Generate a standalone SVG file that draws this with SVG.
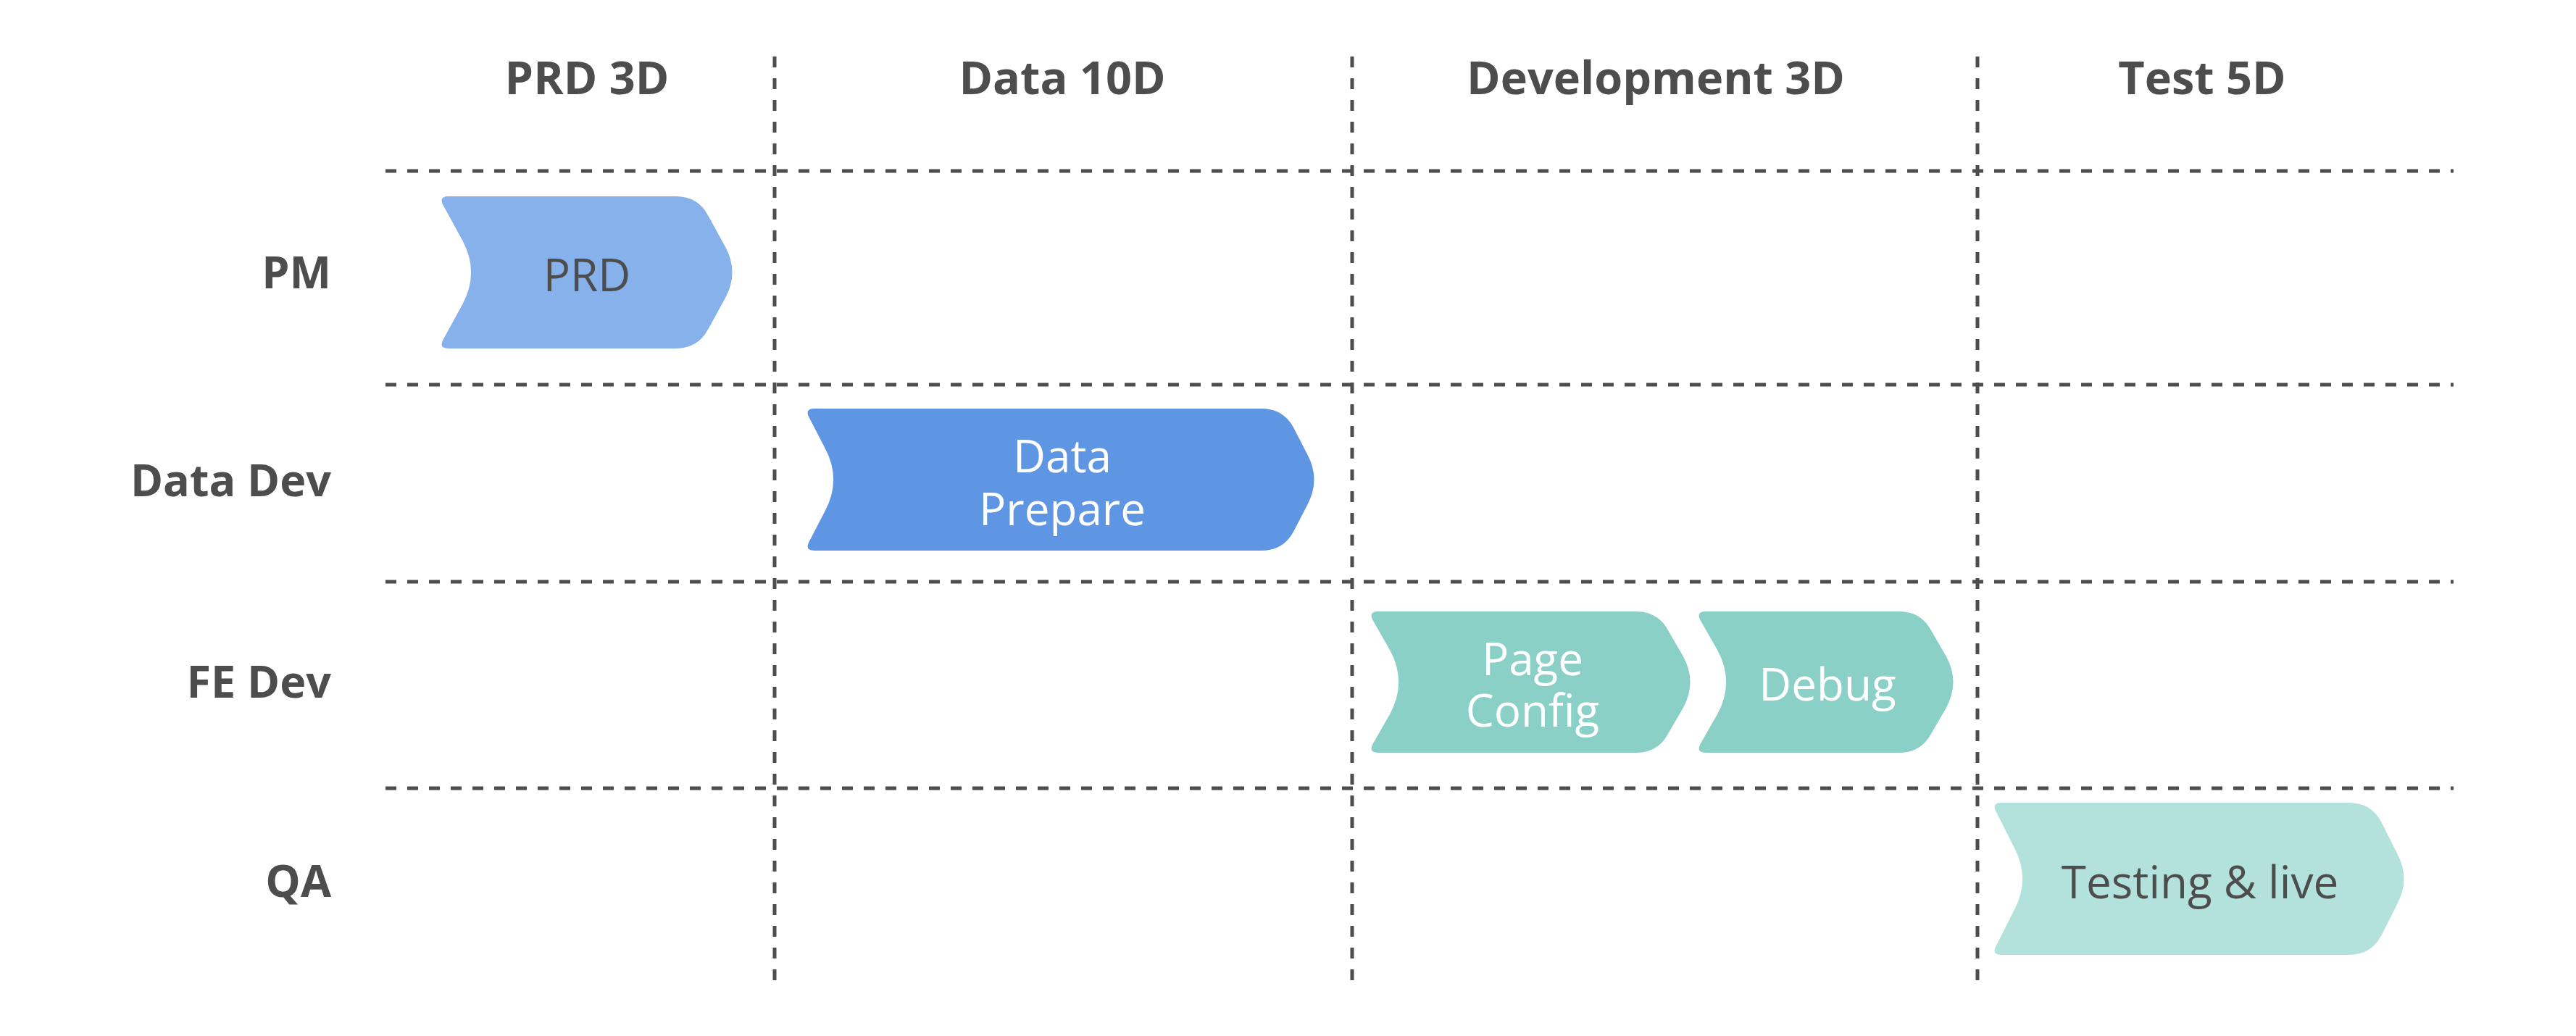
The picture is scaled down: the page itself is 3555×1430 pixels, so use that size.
<svg xmlns="http://www.w3.org/2000/svg" width="3555" height="1430" viewBox="0 0 3555 1430">
<style>
.grid line{stroke:#4d4d4d;stroke-width:5;stroke-dasharray:15 15;fill:none}
.hdr{font-family:"Open Sans","Liberation Sans",sans-serif;font-weight:700;font-size:63px;fill:#4d4d4d;text-anchor:middle}
.row{font-family:"Open Sans","Liberation Sans",sans-serif;font-weight:700;font-size:61px;fill:#4d4d4d;text-anchor:end}
.lbl{font-family:"Open Sans","Liberation Sans",sans-serif;font-size:62px;text-anchor:middle}
.dark{fill:#4d4d4d}
.light{fill:#ffffff}
</style>
<rect width="3555" height="1430" fill="#ffffff"/>
<g id="grid" class="grid">
<line x1="532" y1="236" x2="3386" y2="236"/>
<line x1="532" y1="531" x2="3386" y2="531"/>
<line x1="532" y1="803" x2="3386" y2="803"/>
<line x1="532" y1="1088" x2="3386" y2="1088"/>
<line x1="1069" y1="78" x2="1069" y2="1353"/>
<line x1="1866" y1="78" x2="1866" y2="1353"/>
<line x1="2729" y1="78" x2="2729" y2="1353"/>
</g>
<g id="headers">
<text class="hdr" x="810" y="130">PRD 3D</text>
<text class="hdr" x="1466" y="130">Data 10D</text>
<text class="hdr" x="2285" y="130">Development 3D</text>
<text class="hdr" x="3039" y="130">Test 5D</text>
</g>
<g id="rows">
<text class="row" x="457" y="398">PM</text>
<text class="row" x="457" y="685">Data Dev</text>
<text class="row" x="457" y="963">FE Dev</text>
<text class="row" x="457" y="1238">QA</text>
</g>
<g id="node-prd">
<path fill="#87B1EA" d="M 619 271 L 933 271 Q 963 271 977.25 297.4 L 1001 340.8 Q 1020 376 1001 411.2 L 977.25 454.6 Q 963 481 933 481 L 619 481 Q 605 481 611.65 468.7 L 638.25 420 Q 662 376 638.25 332 L 611.65 283.3 Q 605 271 619 271 Z"/>
<text class="lbl dark" x="810" y="402">PRD</text>
</g>
<g id="node-data-prepare">
<path fill="#5E96E4" d="M 1124 564 L 1741 564 Q 1771 564 1785.25 590.4 L 1804 626.8 Q 1823 662 1804 697.2 L 1785.25 733.6 Q 1771 760 1741 760 L 1124 760 Q 1110 760 1116.65 747.7 L 1138.25 706 Q 1162 662 1138.25 618 L 1116.65 576.3 Q 1110 564 1124 564 Z"/>
<text class="lbl light" x="1466" y="652">Data</text>
<text class="lbl light" x="1466" y="725">Prepare</text>
</g>
<g id="node-page-config">
<path fill="#8AD0C7" d="M 1902 844 L 2258 844 Q 2288 844 2302.25 870.4 L 2323 906.3 Q 2342 941.5 2323 976.7 L 2302.25 1012.6 Q 2288 1039 2258 1039 L 1902 1039 Q 1888 1039 1894.65 1026.7 L 1918.25 985.5 Q 1942 941.5 1918.25 897.5 L 1894.65 856.3 Q 1888 844 1902 844 Z"/>
<text class="lbl light" x="2115" y="932">Page</text>
<text class="lbl light" x="2115" y="1003">Config</text>
</g>
<g id="node-debug">
<path fill="#8AD0C7" d="M 2354 844 L 2621 844 Q 2651 844 2665.25 870.4 L 2686 906.3 Q 2705 941.5 2686 976.7 L 2665.25 1012.6 Q 2651 1039 2621 1039 L 2354 1039 Q 2340 1039 2346.65 1026.7 L 2370.25 985.5 Q 2394 941.5 2370.25 897.5 L 2346.65 856.3 Q 2340 844 2354 844 Z"/>
<text class="lbl light" x="2522" y="967">Debug</text>
</g>
<g id="node-testing-live">
<path fill="#B3E1DC" d="M 2762 1108 L 3242 1108 Q 3272 1108 3286.25 1134.4 L 3308 1177.8 Q 3327 1213 3308 1248.2 L 3286.25 1291.6 Q 3272 1318 3242 1318 L 2762 1318 Q 2748 1318 2754.65 1305.7 L 2779.25 1257 Q 2803 1213 2779.25 1169 L 2754.65 1120.3 Q 2748 1108 2762 1108 Z"/>
<text class="lbl dark" x="3036" y="1240">Testing &amp; live</text>
</g>
</svg>
